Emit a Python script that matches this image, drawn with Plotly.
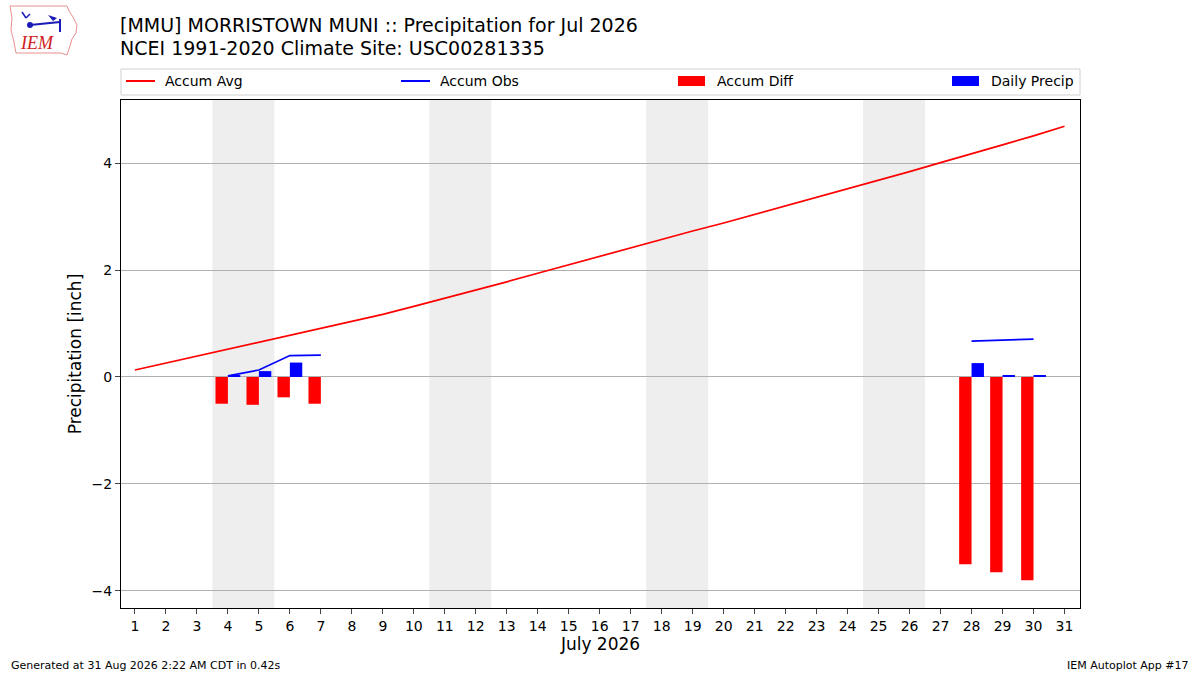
import plotly.graph_objects as go

# July 2026 at MMU
days = list(range(1, 32))
accum_avg = [0.13, 0.26, 0.39, 0.52, 0.65, 0.78, 0.91, 1.04, 1.17, 1.32,
             1.47, 1.63, 1.78, 1.94, 2.10, 2.26, 2.41, 2.57, 2.73, 2.88,
             3.04, 3.19, 3.36, 3.51, 3.68, 3.84, 4.01, 4.17, 4.34, 4.51, 4.69]
obs_days = [4, 5, 6, 7, 28, 29, 30]
daily_precip = [0.02, 0.11, 0.27, 0.00, 0.26, 0.02, 0.02]
accum_obs = [0.02, 0.13, 0.40, 0.41, 0.67, 0.69, 0.71]
weekends = [(3.5, 5.5), (10.5, 12.5), (17.5, 19.5), (24.5, 26.5)]

title1 = "[MMU] MORRISTOWN MUNI :: Precipitation for Jul 2026"
title2 = "NCEI 1991-2020 Climate Site: USC00281335"
footer_left = "Generated at 31 Aug 2026 2:22 AM CDT in 0.42s"
footer_right = "IEM Autoplot App #17"
legend_names = ["Accum Avg", "Accum Obs", "Accum Diff", "Daily Precip"]
legend_colors = ["red", "blue", "red", "blue"]

avg_by_day = dict(zip(days, accum_avg))
accum_diff = [round(o - avg_by_day[d], 2) for d, o in zip(obs_days, accum_obs)]

# obs line broken where there is no data
obs_map = dict(zip(obs_days, accum_obs))
obs_line = [obs_map.get(d) for d in days]

# plot area in pixels
L, R, T, B = 121, 1080, 100, 608


def px(x, y):
    # figure pixels -> paper coords
    return (x - L) / (R - L), (B - y) / (B - T)


fig = go.Figure()

fig.add_trace(go.Scatter(x=days, y=accum_avg, mode="lines", name=legend_names[0],
                         line=dict(color="red", width=1.7)))
fig.add_trace(go.Scatter(x=days, y=obs_line, mode="lines", name=legend_names[1],
                         connectgaps=False, line=dict(color="blue", width=1.7)))
fig.add_trace(go.Bar(x=obs_days, y=accum_diff, name=legend_names[2], width=0.4,
                     offset=-0.4, marker=dict(color="red", line=dict(width=0))))
fig.add_trace(go.Bar(x=obs_days, y=daily_precip, name=legend_names[3], width=0.4,
                     offset=0, marker=dict(color="blue", line=dict(width=0))))

for x0, x1 in weekends:
    fig.add_vrect(x0=x0, x1=x1, fillcolor="#eeeeee", line_width=0, layer="below")

fig.update_layout(
    width=1200, height=675,
    margin=dict(l=L, r=1200 - R, t=T, b=675 - B, autoexpand=False),
    paper_bgcolor="white", plot_bgcolor="white",
    font=dict(family="DejaVu Sans", size=14, color="black"),
    barmode="overlay",
    showlegend=False,
)

fig.update_xaxes(range=[0.55, 31.5], tickmode="array", tickvals=days,
                 ticktext=[str(d) for d in days], ticks="outside", ticklen=5,
                 tickfont=dict(size=14), showgrid=False, showline=True,
                 linecolor="black", mirror=True, zeroline=False,
                 title=dict(text="July 2026", font=dict(size=17), standoff=4))
fig.update_yaxes(range=[-4.32, 5.18], tickvals=[-4, -2, 0, 2, 4],
                 ticktext=["\u22124", "\u22122", "0", "2", "4"],
                 ticks="outside", ticklen=5, tickfont=dict(size=14),
                 showgrid=True, gridcolor="#b0b0b0", gridwidth=1,
                 zeroline=False, showline=True, linecolor="black", mirror=True,
                 title=dict(text="Precipitation [inch]", font=dict(size=17),
                            standoff=5))


def text(s, x, y, anchor="left", size=14, **kw):
    tx, ty = px(x, y)
    fig.add_annotation(text=s, xref="paper", yref="paper", x=tx, y=ty,
                       xanchor=anchor, yanchor="middle", showarrow=False,
                       font=dict(size=size, **kw))


# titles and footer
text(title1, 118, 25, size=19)
text(title2, 118, 48, size=19)
text(footer_left, 9, 665, size=11)
text(footer_right, 1191, 665, anchor="right", size=11)

# legend box drawn by hand so the four entries spread like the original
bx0, by0 = px(121, 69)
bx1, by1 = px(1080, 95)
fig.add_shape(type="rect", xref="paper", yref="paper", x0=bx0, y0=by0, x1=bx1,
              y1=by1, line=dict(color="#d0d0d0", width=1), fillcolor="white")
entry_x = [126, 401, 678, 952]
for i, (name, col) in enumerate(zip(legend_names, legend_colors)):
    x0 = entry_x[i]
    if i < 2:
        ax0, ay0 = px(x0, 81)
        ax1, _ = px(x0 + 29, 81)
        fig.add_shape(type="line", xref="paper", yref="paper", x0=ax0, y0=ay0,
                      x1=ax1, y1=ay0, line=dict(color=col, width=2))
    else:
        ax0, ay0 = px(x0, 76)
        ax1, ay1 = px(x0 + 27, 86)
        fig.add_shape(type="rect", xref="paper", yref="paper", x0=ax0, y0=ay0,
                      x1=ax1, y1=ay1, line=dict(width=0), fillcolor=col)
    text(name, x0 + 37, 81)

# IEM logo, rough Iowa outline plus the weather station glyph
outline = [(10, 6), (67, 6), (69, 11), (73, 17), (77, 25), (76, 33), (72, 39),
           (70, 46), (67, 55), (61, 53), (16, 53), (14, 42), (11, 30), (12, 18)]
path = "M " + " L ".join("%.4f,%.4f" % px(x, y) for x, y in outline) + " Z"
fig.add_shape(type="path", path=path, xref="paper", yref="paper",
              line=dict(color="#e89090", width=1), fillcolor="rgba(0,0,0,0)")
blue = "#1a1ab8"
segments = [((30, 25), (60, 22), 2), ((60, 19), (60, 32), 2),
            ((22, 12), (26, 18), 1.5), ((26, 18), (30, 14), 1.5)]
for (xa, ya), (xb, yb), w in segments:
    p0, p1 = px(xa, ya), px(xb, yb)
    fig.add_shape(type="line", xref="paper", yref="paper", x0=p0[0], y0=p0[1],
                  x1=p1[0], y1=p1[1], line=dict(color=blue, width=w))
flag = [(48, 15), (57, 18), (53, 21)]
fpath = "M " + " L ".join("%.4f,%.4f" % px(x, y) for x, y in flag) + " Z"
fig.add_shape(type="path", path=fpath, xref="paper", yref="paper",
              line=dict(width=0), fillcolor=blue)
c0, c1 = px(27, 22), px(33, 28)
fig.add_shape(type="circle", xref="paper", yref="paper", x0=c0[0], y0=c1[1],
              x1=c1[0], y1=c0[1], fillcolor=blue, line=dict(width=0))
text("<i>IEM</i>", 37, 43, anchor="center", size=18,
     family="Liberation Serif", color="#d02020")

fig.write_html("out.html", config={"displayModeBar": False},
               post_script="document.body.style.margin='0px';")
